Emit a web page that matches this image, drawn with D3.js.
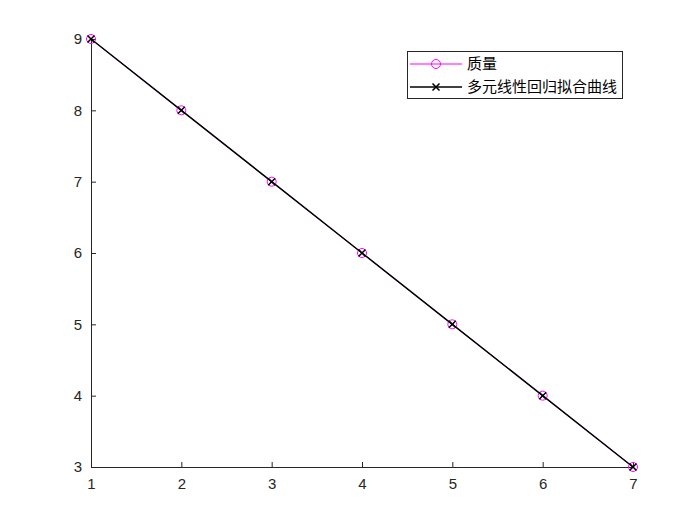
<!DOCTYPE html>
<html><head><meta charset="utf-8">
<script src="https://cdn.jsdelivr.net/npm/d3@7"></script>
<style>body{margin:0;background:#fff}</style>
</head><body>
<script>
const xValues = [1,2,3,4,5,6,7];
const quality = [9,8,7,6,5,4,3];
const fitted = [9,8,7,6,5,4,3];
const xTicks = [1,2,3,4,5,6,7];
const yTicks = [3,4,5,6,7,8,9];
const seriesNames = ["质量","多元线性回归拟合曲线"];

const W=700,H=525;
const svg=d3.select("body").append("svg").attr("width",W).attr("height",H).style("background","#fff");
const x=d3.scaleLinear().domain([1,7]).range([91,633]);
const y=d3.scaleLinear().domain([3,9]).range([467,39]);
const axisColor="#262626";

// axes
const gx=svg.append("g").attr("transform","translate(0,467)")
  .call(d3.axisBottom(x).tickValues(xTicks).tickSizeInner(-5).tickSizeOuter(0).tickPadding(11).tickFormat(d3.format("d")));
const gy=svg.append("g").attr("transform","translate(91,0)")
  .call(d3.axisLeft(y).tickValues(yTicks).tickSizeInner(-5).tickSizeOuter(0).tickPadding(9).tickFormat(d3.format("d")));
[gx,gy].forEach(g=>{
  g.select(".domain").attr("stroke",axisColor).attr("stroke-width",1);
  g.selectAll(".tick line").attr("stroke",axisColor);
  g.selectAll(".tick text").attr("fill",axisColor).style("font-family","Liberation Sans, Arial, sans-serif").style("font-size","15px");
});

const line=d3.line().x((d,i)=>x(xValues[i])).y(d=>y(d));
// series 1 magenta with circles
svg.append("path").datum(quality).attr("d",line).attr("fill","none").attr("stroke","#ff00ff").attr("stroke-width",1);
svg.append("g").selectAll("circle").data(quality).join("circle")
  .attr("cx",(d,i)=>x(xValues[i])).attr("cy",d=>y(d)).attr("r",4.5)
  .attr("fill","none").attr("stroke","#ff00ff").attr("stroke-width",1);
// series 2 black with x markers
svg.append("path").datum(fitted).attr("d",line).attr("fill","none").attr("stroke","#000").attr("stroke-width",1.5);
const s=3.5;
svg.append("g").selectAll("path").data(fitted).join("path")
  .attr("d",(d,i)=>{const cx=x(xValues[i]),cy=y(d);return `M${cx-s},${cy-s}L${cx+s},${cy+s}M${cx-s},${cy+s}L${cx+s},${cy-s}`;})
  .attr("stroke","#000").attr("stroke-width",1.5);

// legend
const lg=svg.append("g");
lg.append("rect").attr("x",407.5).attr("y",51.5).attr("width",215).attr("height",47).attr("fill","#fff").attr("stroke","#262626").attr("stroke-width",1);
const rows=[{y:64,color:"#ff00ff",w:1,m:"o"},{y:87,color:"#000",w:1.5,m:"x"}];
rows.forEach((r,i)=>{
  lg.append("line").attr("x1",410).attr("x2",462).attr("y1",r.y).attr("y2",r.y).attr("stroke",r.color).attr("stroke-width",r.w);
  if(r.m==="o") lg.append("circle").attr("cx",436).attr("cy",r.y).attr("r",4.5).attr("fill","none").attr("stroke",r.color);
  else lg.append("path").attr("d",`M${436-s},${r.y-s}L${436+s},${r.y+s}M${436-s},${r.y+s}L${436+s},${r.y-s}`).attr("stroke",r.color).attr("stroke-width",1.5);
  lg.append("text").attr("x",467).attr("y",r.y).attr("dy","0.36em").text(seriesNames[i])
    .style("font-family","Noto Sans CJK SC, sans-serif").style("font-size","15px").attr("fill","#000");
});
</script>
</body></html>
